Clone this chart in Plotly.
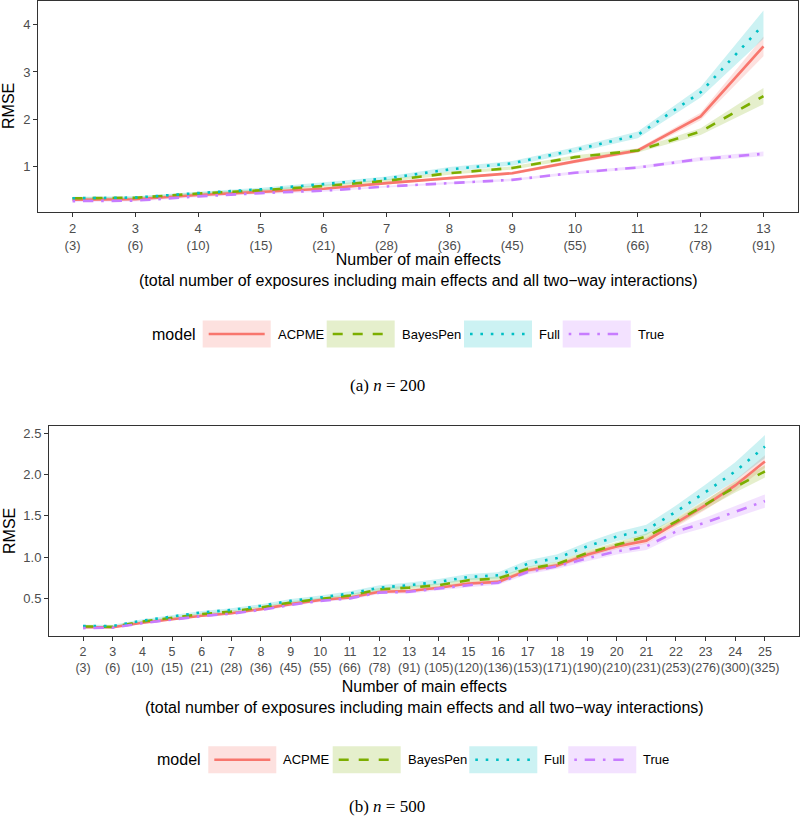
import plotly.graph_objects as go

W, H = 800, 819

# ---------------- data ----------------
models = ["ACPME", "BayesPen", "Full", "True"]

# panel (a) n = 200
main_a = [2, 3, 4, 5, 6, 7, 8, 9, 10, 11, 12, 13]
total_a = [3, 6, 10, 15, 21, 28, 36, 45, 55, 66, 78, 91]
acpme_a = [0.30, 0.31, 0.40, 0.46, 0.53, 0.65, 0.75, 0.86, 1.11, 1.34, 2.06, 3.54]
bayespen_a = [0.33, 0.34, 0.43, 0.50, 0.59, 0.70, 0.86, 0.97, 1.20, 1.34, 1.74, 2.49]
full_a = [0.33, 0.345, 0.44, 0.52, 0.63, 0.75, 0.94, 1.07, 1.35, 1.67, 2.57, 4.00]
true_a = [0.27, 0.28, 0.37, 0.44, 0.49, 0.58, 0.65, 0.72, 0.87, 0.98, 1.16, 1.27]
acpme_a_hw = [0.02, 0.02, 0.02, 0.02, 0.025, 0.03, 0.03, 0.03, 0.04, 0.04, 0.08, 0.21]
bayespen_a_hw = [0.02, 0.02, 0.02, 0.02, 0.025, 0.03, 0.03, 0.035, 0.04, 0.04, 0.07, 0.17]
full_a_hw = [0.03, 0.03, 0.03, 0.035, 0.04, 0.04, 0.05, 0.05, 0.06, 0.07, 0.11, 0.30]
true_a_hw = [0.02, 0.02, 0.02, 0.02, 0.02, 0.02, 0.025, 0.025, 0.03, 0.03, 0.04, 0.05]
yticks_a = [1, 2, 3, 4]

# panel (b) n = 500
main_b = list(range(2, 26))
total_b = [3, 6, 10, 15, 21, 28, 36, 45, 55, 66, 78, 91, 105, 120, 136, 153,
           171, 190, 210, 231, 253, 276, 300, 325]
acpme_b = [0.15, 0.15, 0.205, 0.245, 0.29, 0.32, 0.37, 0.43, 0.48, 0.51, 0.58, 0.59,
           0.63, 0.68, 0.70, 0.84, 0.90, 1.03, 1.13, 1.20, 1.41, 1.63, 1.87, 2.16]
bayespen_b = [0.16, 0.155, 0.22, 0.265, 0.31, 0.34, 0.39, 0.45, 0.495, 0.535, 0.61, 0.63,
              0.66, 0.72, 0.74, 0.86, 0.92, 1.05, 1.15, 1.25, 1.43, 1.64, 1.85, 2.04]
full_b = [0.165, 0.165, 0.23, 0.28, 0.33, 0.36, 0.41, 0.47, 0.51, 0.56, 0.63, 0.66,
          0.70, 0.76, 0.78, 0.92, 0.99, 1.13, 1.25, 1.33, 1.55, 1.79, 2.04, 2.34]
true_b = [0.14, 0.145, 0.20, 0.24, 0.285, 0.315, 0.36, 0.42, 0.47, 0.50, 0.57, 0.58,
          0.62, 0.66, 0.69, 0.82, 0.89, 0.985, 1.07, 1.13, 1.31, 1.42, 1.55, 1.68]
acpme_b_hw = [0.01, 0.01, 0.01, 0.01, 0.012, 0.012, 0.013, 0.014, 0.015, 0.016, 0.018, 0.02,
              0.02, 0.022, 0.024, 0.026, 0.028, 0.03, 0.034, 0.038, 0.045, 0.055, 0.065, 0.075]
bayespen_b_hw = [0.01, 0.01, 0.01, 0.01, 0.012, 0.012, 0.013, 0.014, 0.015, 0.016, 0.018, 0.02,
                 0.02, 0.022, 0.024, 0.026, 0.028, 0.03, 0.034, 0.038, 0.045, 0.055, 0.065, 0.075]
full_b_hw = [0.015, 0.015, 0.016, 0.017, 0.018, 0.019, 0.02, 0.022, 0.024, 0.026, 0.03, 0.032,
             0.034, 0.036, 0.038, 0.042, 0.046, 0.05, 0.056, 0.062, 0.075, 0.09, 0.11, 0.14]
true_b_hw = [0.01, 0.01, 0.01, 0.01, 0.012, 0.012, 0.013, 0.014, 0.015, 0.016, 0.018, 0.02,
             0.022, 0.024, 0.026, 0.028, 0.03, 0.034, 0.038, 0.042, 0.05, 0.06, 0.07, 0.08]
yticks_b = [0.5, 1.0, 1.5, 2.0, 2.5]

# ---------------- styles ----------------
colors = {"ACPME": "#F8766D", "BayesPen": "#7CAE00", "Full": "#00BFC4", "True": "#C77CFF"}
fills = {"ACPME": "rgba(248,118,109,0.22)", "BayesPen": "rgba(124,174,0,0.20)",
         "Full": "rgba(0,191,196,0.20)", "True": "rgba(199,124,255,0.22)"}
LW = 2.6
dashes = {"ACPME": "solid", "BayesPen": "10px,10px", "Full": "2.6px,7.8px",
          "True": "2.6px,7.8px,10.4px,7.8px"}

SANS = "Liberation Sans, Arial, Helvetica, sans-serif"
SERIF = "Liberation Serif, Times New Roman, serif"
TICKCOL = "#4D4D4D"
FRAME = "#333333"


def px(x):
    return x / W


def py(y):
    return 1 - y / H


fig = go.Figure()

panels = [
    dict(x=main_a, tot=total_a, yt=yticks_a,
         vals={"ACPME": acpme_a, "BayesPen": bayespen_a, "Full": full_a, "True": true_a},
         hw={"ACPME": acpme_a_hw, "BayesPen": bayespen_a_hw, "Full": full_a_hw, "True": true_a_hw},
         xa="x", ya="y"),
    dict(x=main_b, tot=total_b, yt=yticks_b,
         vals={"ACPME": acpme_b, "BayesPen": bayespen_b, "Full": full_b, "True": true_b},
         hw={"ACPME": acpme_b_hw, "BayesPen": bayespen_b_hw, "Full": full_b_hw, "True": true_b_hw},
         xa="x2", ya="y2"),
]

for p in panels:
    # ribbons
    for m in models:
        v, h = p["vals"][m], p["hw"][m]
        lo = [a - b for a, b in zip(v, h)]
        hi = [a + b for a, b in zip(v, h)]
        fig.add_trace(go.Scatter(x=p["x"], y=lo, mode="lines", line=dict(width=0),
                                 xaxis=p["xa"], yaxis=p["ya"], showlegend=False,
                                 hoverinfo="skip"))
        fig.add_trace(go.Scatter(x=p["x"], y=hi, mode="lines", line=dict(width=0),
                                 fill="tonexty", fillcolor=fills[m],
                                 xaxis=p["xa"], yaxis=p["ya"], showlegend=False,
                                 hoverinfo="skip"))
    # lines
    for m in models:
        fig.add_trace(go.Scatter(x=p["x"], y=p["vals"][m], mode="lines", name=m,
                                 line=dict(color=colors[m], width=LW, dash=dashes[m]),
                                 xaxis=p["xa"], yaxis=p["ya"], showlegend=False))

axis_common = dict(showgrid=False, zeroline=False, showline=True, mirror=True,
                   linecolor=FRAME, linewidth=1, ticks="outside", ticklen=4,
                   tickcolor=FRAME, tickwidth=1, automargin=False, tickangle=0,
                   tickfont=dict(family=SANS, size=13, color=TICKCOL))

fig.update_layout(
    template="none",
    width=W, height=H,
    margin=dict(l=0, r=0, t=0, b=0, pad=0),
    paper_bgcolor="white", plot_bgcolor="white",
    showlegend=False,
    xaxis=dict(domain=[px(38), px(798)], range=[1.45, 13.55], anchor="y",
               tickvals=main_a, ticktext=[f"{a}<br>({b})" for a, b in zip(main_a, total_a)],
               **axis_common),
    yaxis=dict(domain=[py(212), py(1)], range=[0.04, 4.5], anchor="x",
               tickvals=yticks_a, ticktext=[str(t) for t in yticks_a], **axis_common),
    xaxis2=dict(domain=[px(49), px(799)], range=[0.85, 26.15], anchor="y2",
                tickvals=main_b, ticktext=[f"{a}<br>({b})" for a, b in zip(main_b, total_b)],
                **axis_common),
    yaxis2=dict(domain=[py(636), py(426)], range=[0.044, 2.59], anchor="x2",
                tickvals=yticks_b, ticktext=[f"{t:.1f}" for t in yticks_b], **axis_common),
)
fig.update_xaxes(tickfont=dict(size=12.5), selector=dict(anchor="y2"))

ann = []
shapes = []
xtitle = "Number of main effects<br>(total number of exposures including main effects and all two\u2212way interactions)"

# axis titles
ann.append(dict(x=px(418), y=py(270), xref="paper", yref="paper", text=xtitle,
                showarrow=False, font=dict(family=SANS, size=16, color="black"),
                xanchor="center", yanchor="middle"))
ann.append(dict(x=px(424), y=py(697), xref="paper", yref="paper", text=xtitle,
                showarrow=False, font=dict(family=SANS, size=16, color="black"),
                xanchor="center", yanchor="middle"))
ann.append(dict(x=px(9), y=py(106), xref="paper", yref="paper", text="RMSE", textangle=-90,
                showarrow=False, font=dict(family=SANS, size=16, color="black"),
                xanchor="center", yanchor="middle"))
ann.append(dict(x=px(9), y=py(531), xref="paper", yref="paper", text="RMSE", textangle=-90,
                showarrow=False, font=dict(family=SANS, size=16, color="black"),
                xanchor="center", yanchor="middle"))

# legends (manual ggplot-style keys)
legends = [
    dict(title_x=150, cy=334, keys=[202.7, 326.7, 464.0, 562.7]),
    dict(title_x=155, cy=759.7, keys=[208.3, 332.7, 469.3, 568.3]),
]
KW, KH = 68, 27
for lg in legends:
    ann.append(dict(x=px(lg["title_x"]), y=py(lg["cy"]), xref="paper", yref="paper",
                    text="model", showarrow=False, xanchor="left", yanchor="middle",
                    font=dict(family=SANS, size=16, color="black")))
    for m, kx in zip(models, lg["keys"]):
        shapes.append(dict(type="rect", xref="paper", yref="paper",
                           x0=px(kx), x1=px(kx + KW), y0=py(lg["cy"] - KH / 2),
                           y1=py(lg["cy"] + KH / 2), fillcolor=fills[m], line=dict(width=0),
                           layer="above"))
        shapes.append(dict(type="line", xref="paper", yref="paper",
                           x0=px(kx + 6), x1=px(kx + KW - 6), y0=py(lg["cy"]), y1=py(lg["cy"]),
                           line=dict(color=colors[m], width=LW, dash=dashes[m]), layer="above"))
        ann.append(dict(x=px(kx + KW + 5), y=py(lg["cy"]), xref="paper", yref="paper",
                        text=m, showarrow=False, xanchor="left", yanchor="middle",
                        font=dict(family=SANS, size=13, color="black")))

# captions
ann.append(dict(x=px(387), y=py(385), xref="paper", yref="paper",
                text="(a) <i>n</i> = 200", showarrow=False, xanchor="center", yanchor="middle",
                font=dict(family=SERIF, size=17, color="black")))
ann.append(dict(x=px(387), y=py(806), xref="paper", yref="paper",
                text="(b) <i>n</i> = 500", showarrow=False, xanchor="center", yanchor="middle",
                font=dict(family=SERIF, size=17, color="black")))

fig.update_layout(annotations=ann, shapes=shapes)
fig.write_html("out.html", config={"displayModeBar": False},
               post_script="document.body.style.margin='0';document.body.style.overflow='hidden';")
